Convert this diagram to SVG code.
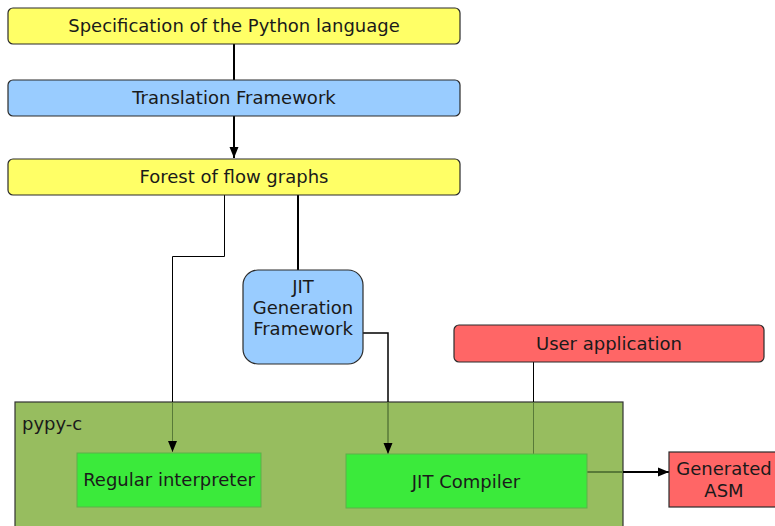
<svg xmlns="http://www.w3.org/2000/svg" width="775" height="526" viewBox="0 0 775 526">
<defs>
<style>
text{font-family:"DejaVu Sans","Liberation Sans",sans-serif;font-size:18px;fill:#1a1a1a;text-anchor:middle}
.box{stroke:#2b2b2b;stroke-width:1.2}
.yel{fill:#ffff66}
.blu{fill:#99ccff}
.red{fill:#ff6666}
.grn{fill:#3bea3b;stroke:#5fb04a;stroke-width:1}
.ln{fill:none;stroke:#000}
.in{fill:none;stroke:#587a38}
</style>
<marker id="ah" markerWidth="12" markerHeight="12" refX="11" refY="5.5" orient="auto" markerUnits="userSpaceOnUse">
<path d="M0,1 L11,5.5 L0,10 Z" fill="#000"/>
</marker>
</defs>
<rect width="775" height="526" fill="#fff"/>

<g id="pypy-c">
<rect x="15" y="402" width="608" height="130" fill="#97bd5f" stroke="#333" stroke-width="1.2"/>
<text x="22" y="430" style="text-anchor:start">pypy-c</text>
</g>

<g id="connectors">
<path class="ln" stroke-width="2" d="M234,44 V80"/>
<path class="ln" stroke-width="2" d="M234,116 V158" marker-end="url(#ah)"/>
<path class="ln" stroke-width="1" d="M224.5,195 V256.5 H172.5 V402"/>
<path class="in" stroke-width="1" d="M172.5,402 V452" marker-end="url(#ah)"/>
<path class="ln" stroke-width="2" d="M298,195 V270"/>
<path class="ln" stroke-width="1.5" d="M363,333 H388 V402"/>
<path class="in" stroke-width="1.5" d="M388,402 V454" marker-end="url(#ah)"/>
<path class="ln" stroke-width="1" d="M533.5,362 V402"/>
<path class="in" stroke-width="1" d="M533.5,402 V454"/>
<path class="in" stroke-width="2" d="M587,472 H623"/>
<path class="ln" stroke-width="2" d="M623,472 H669" marker-end="url(#ah)"/>
</g>

<g id="spec">
<rect class="box yel" x="8" y="8" width="452" height="36" rx="5"/>
<text x="234" y="32">Specification of the Python language</text>
</g>
<g id="translation">
<rect class="box blu" x="8" y="80" width="452" height="36" rx="5"/>
<text x="234" y="104">Translation Framework</text>
</g>
<g id="forest">
<rect class="box yel" x="8" y="159" width="452" height="36" rx="5"/>
<text x="234" y="183">Forest of flow graphs</text>
</g>
<g id="jitgen">
<rect class="box blu" x="243" y="270" width="120" height="94" rx="15"/>
<text x="303" y="293">JIT</text>
<text x="303" y="314">Generation</text>
<text x="303" y="335">Framework</text>
</g>
<g id="userapp">
<rect class="box red" x="454" y="325" width="310" height="37" rx="5"/>
<text x="609" y="350">User application</text>
</g>
<g id="regular">
<rect class="grn" x="77" y="453" width="184" height="54"/>
<text x="169" y="486">Regular interpreter</text>
</g>
<g id="jitcompiler">
<rect class="grn" x="346" y="454" width="241" height="54"/>
<text x="466" y="488">JIT Compiler</text>
</g>
<g id="asm">
<rect class="box red" x="669" y="452" width="110" height="55"/>
<text x="724" y="475">Generated</text>
<text x="724" y="497">ASM</text>
</g>
</svg>
